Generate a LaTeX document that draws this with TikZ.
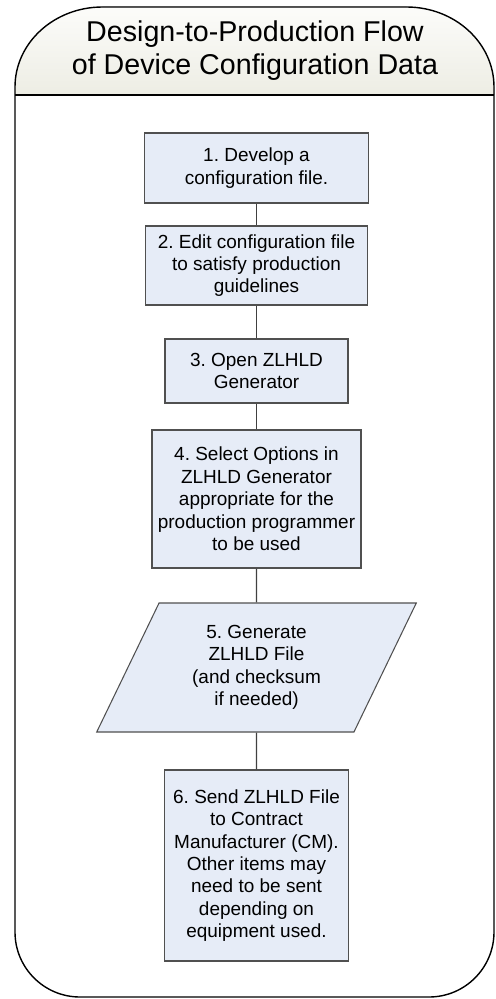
\documentclass[tikz,border=0pt]{standalone}
\usepackage{fontspec}
\setmainfont{Liberation Sans}
\frenchspacing
\usetikzlibrary{shapes.geometric}
\definecolor{boxfill}{HTML}{E6ECF7}
\definecolor{boxline}{HTML}{505050}
\definecolor{headtop}{HTML}{FCFCFA}
\definecolor{headbot}{HTML}{EDEDE4}
\begin{document}
\begin{tikzpicture}[
  stepbox/.style={draw=boxline,fill=boxfill,line width=0.6pt,align=center,inner sep=0pt,
    font=\fontsize{10.8}{12.75}\selectfont},
  iobox/.style={stepbox,trapezium,trapezium left angle=64,trapezium right angle=116,
    trapezium stretches=true},
  link/.style={draw=black!75,line width=0.6pt},
  frame/.style={draw=black,line width=0.8pt}]
\useasboundingbox (0,0) rectangle (9.9,-19.98);
\fill[top color=headtop,bottom color=headbot] (0.3,-1.9) -- (0.3,-1.74)
  arc[start angle=180,end angle=90,x radius=1.75,y radius=1.6] -- (8.13,-0.14)
  arc[start angle=90,end angle=0,x radius=1.75,y radius=1.6] -- (9.88,-1.9) -- cycle;
\draw[frame] (0.3,-1.74)
  arc[start angle=180,end angle=90,x radius=1.75,y radius=1.6] -- (8.13,-0.14)
  arc[start angle=90,end angle=0,x radius=1.75,y radius=1.6] -- (9.88,-18.64)
  arc[start angle=0,end angle=-90,radius=1.3] -- (1.6,-19.94)
  arc[start angle=270,end angle=180,radius=1.3] -- cycle;
\draw[frame] (0.3,-1.9) -- (9.88,-1.9);
\node[align=center,font=\fontsize{16.3}{18.8}\selectfont] (title) at (5.1,-1.02)
  {Design-to-Production Flow\\of Device Configuration Data};
\node[stepbox,minimum width=4.48cm,minimum height=1.4cm] (s1) at (5.13,-3.36)
  {1. Develop a\\configuration file.};
\node[stepbox,minimum width=4.44cm,minimum height=1.58cm] (s2) at (5.13,-5.31)
  {2. Edit configuration file\\to satisfy production\\guidelines};
\node[stepbox,minimum width=3.66cm,minimum height=1.28cm] (s3) at (5.13,-7.42)
  {3. Open ZLHLD\\Generator};
\node[stepbox,minimum width=4.18cm,minimum height=2.76cm] (s4) at (5.13,-9.98)
  {4. Select Options in\\ZLHLD Generator\\appropriate for the\\production programmer\\to be used};
\node[iobox,minimum width=6.4cm,minimum height=2.58cm] (s5) at (5.13,-13.35)
  {5. Generate\\ZLHLD File\\(and checksum\\if needed)};
\node[stepbox,minimum width=3.68cm,minimum height=3.82cm] (s6) at (5.13,-17.31)
  {6. Send ZLHLD File\\to Contract\\Manufacturer (CM).\\Other items may\\need to be sent\\depending on\\equipment used.};
\draw[link] (s1) -- (s2);
\draw[link] (s2) -- (s3);
\draw[link] (s3) -- (s4);
\draw[link] (s4) -- (s5);
\draw[link] (s5) -- (s6);
\end{tikzpicture}
\end{document}
